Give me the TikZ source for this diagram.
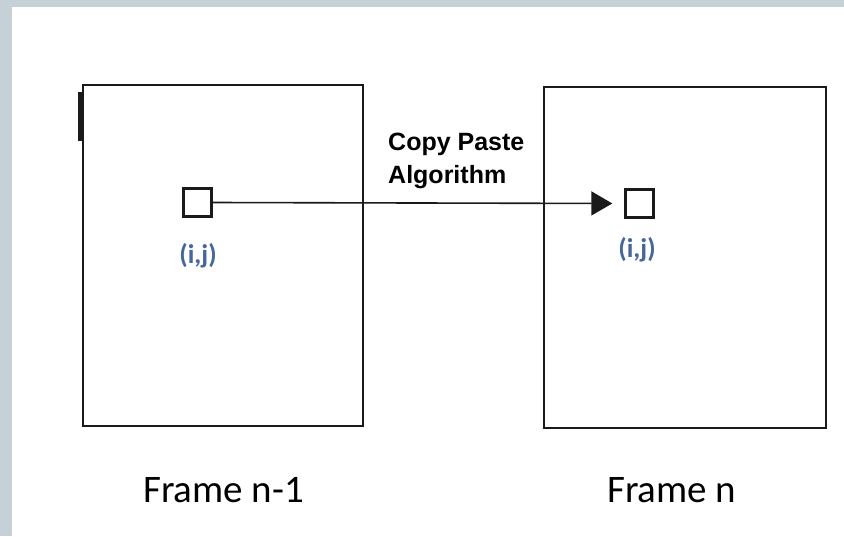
\documentclass[tikz,border=0pt]{standalone}
\usepackage{fontspec}
\setmainfont{Carlito}
\newfontfamily\arialfont{Liberation Sans}
\usetikzlibrary{arrows.meta}
\definecolor{edgegrey}{HTML}{C5D0D7}
\definecolor{labelblue}{HTML}{46679A}
\definecolor{ink}{HTML}{1A1A1A}
\tikzset{
  framebox/.style={draw=ink, line width=2.2pt, inner sep=0pt},
  pixel/.style={draw=ink, line width=2.4pt, inner sep=0pt, minimum size=28pt, fill=white},
  pixlabel/.style={text=labelblue, inner sep=0pt, font=\fontsize{27}{30}\selectfont\bfseries},
  algolabel/.style={inner sep=0pt, anchor=base west, font=\arialfont\fontsize{25}{30}\selectfont\bfseries},
  framelabel/.style={inner sep=0pt, anchor=base west, font=\fontsize{39}{44}\selectfont},
  flow/.style={draw=ink, line width=1.6pt, -{Triangle[length=21pt,width=24pt]}}
}
\begin{document}
\begin{tikzpicture}[x=1pt,y=-1pt]
  % page background with the grey strip on the left and top
  \fill[edgegrey] (0,0) rectangle (844,536);
  \fill[white] (12,7) rectangle (844,536);
  \useasboundingbox (0,0) rectangle (844,536);

  % the two frames
  \node[framebox, minimum width=280pt, minimum height=341pt] (frameA) at (223,255.5) {};
  \node[framebox, minimum width=282pt, minimum height=341pt] (frameB) at (685,257.5) {};
  \draw[ink, line width=4pt] (80,92) -- (80,141);

  % the pixel in each frame
  \node[pixel] (pixA) at (197.5,202.5) {};
  \node[pixel] (pixB) at (639.5,203.5) {};
  \node[pixlabel] (ijA) at (198,256) {(i,j)};
  \node[pixlabel] (ijB) at (637,250) {(i,j)};

  % copy from frame n-1 to frame n
  \draw[flow, shorten >=12pt] (pixA.east) -- (pixB.west);
  \node[algolabel] (algoA) at (388,150) {Copy Paste};
  \node[algolabel] (algoB) at (388,183) {Algorithm};

  % frame captions
  \node[framelabel] (capA) at (143,502) {Frame n-1};
  \node[framelabel] (capB) at (607,502) {Frame n};
\end{tikzpicture}
\end{document}
